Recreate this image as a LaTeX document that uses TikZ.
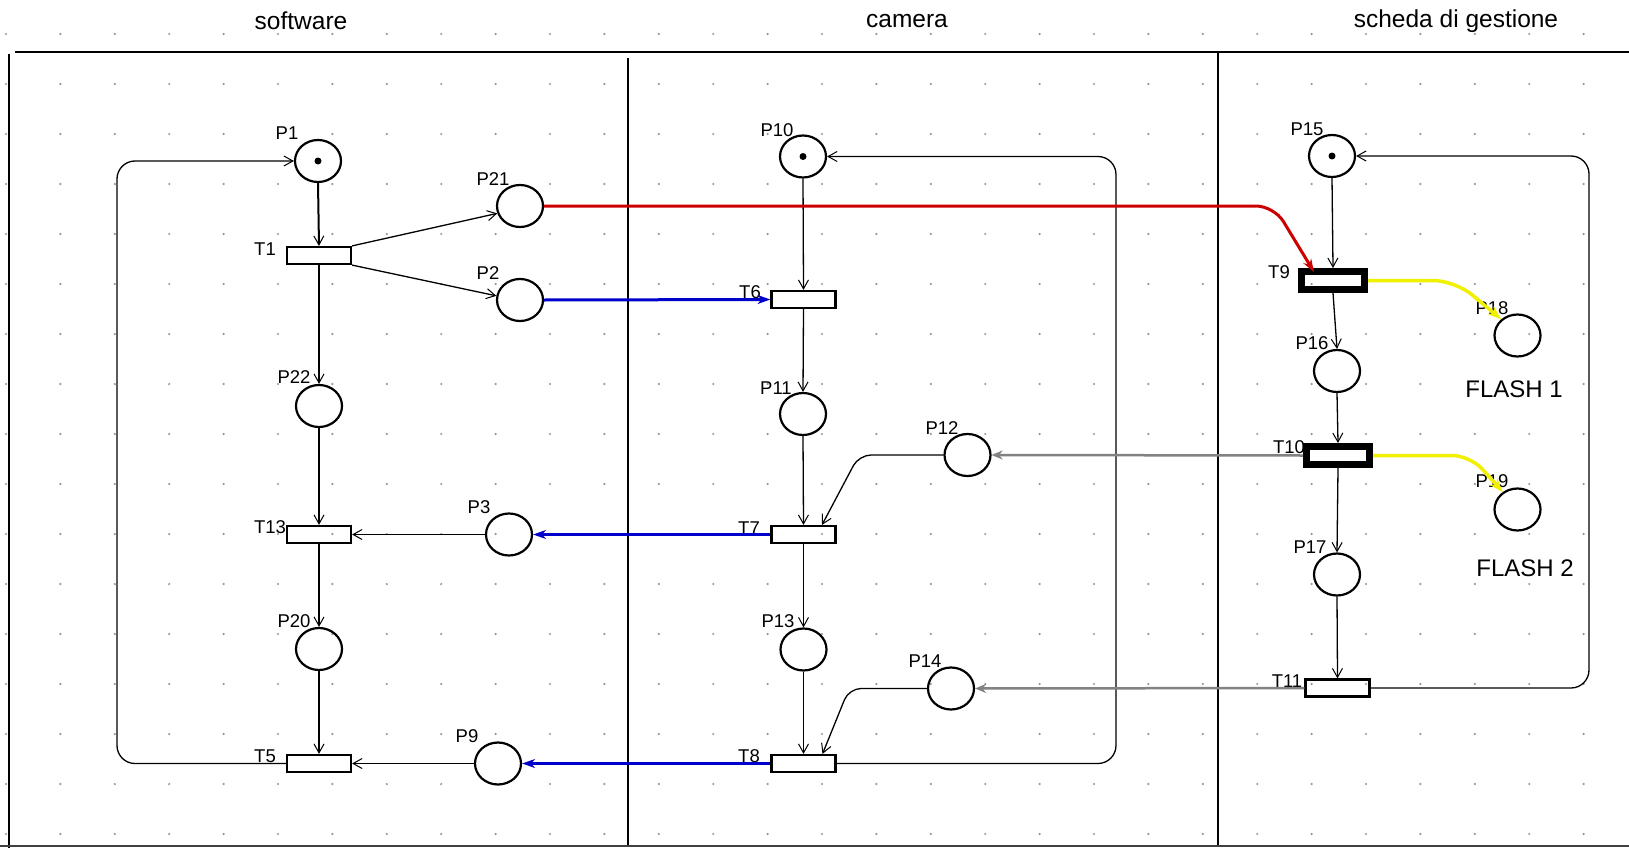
\documentclass[tikz,border=0pt]{standalone}
\usepackage{fontspec}
\setmainfont{Liberation Sans}
\usetikzlibrary{arrows.meta,shapes.geometric,calc}
\definecolor{pnred}{RGB}{205,0,0}
\definecolor{pnblue}{RGB}{0,0,205}
\definecolor{pnyellow}{RGB}{240,240,0}
\definecolor{pngray}{RGB}{130,130,130}
\definecolor{dotgray}{RGB}{150,150,150}
\begin{document}
\begin{tikzpicture}[x=1pt,y=-1pt,
  place/.style={ellipse,draw,line width=2.2pt,minimum width=46pt,minimum height=42pt,inner sep=0pt},
  trans/.style={rectangle,draw,line width=2.2pt,minimum width=64pt,minimum height=17pt,inner sep=0pt},
  transthick/.style={rectangle,draw,line width=7pt,minimum width=63pt,minimum height=18pt,inner sep=0pt},
  tokendot/.style={circle,fill,minimum size=7pt,inner sep=0pt},
  lbl/.style={font=\fontsize{18.5}{20}\selectfont,inner sep=0pt},
  hdr/.style={font=\fontsize{24.5}{27}\selectfont,inner sep=0pt},
  flash/.style={font=\fontsize{24}{27}\selectfont,inner sep=0pt},
  barb/.style={-{Straight Barb[length=9pt,width=10pt,line width=1pt]}},
  arcthick/.style={barb,line width=2pt},
  arcthin/.style={barb,line width=1.3pt},
  redarc/.style={draw=pnred,line width=3pt,-{Stealth[length=13pt,width=9pt]}},
  bluearc/.style={draw=pnblue,line width=3pt,-{Stealth[length=13pt,width=9pt]}},
  grayarc/.style={draw=pngray,line width=2.5pt,-{Stealth[length=11pt,width=9pt]}},
  yellowarc/.style={draw=pnyellow,line width=3.5pt,-{Stealth[length=14pt,width=10pt]}}
]
\useasboundingbox (0,0) rectangle (1629,848);
\fill[white] (0,0) rectangle (1629,848);
% dot grid
\foreach \i in {0,...,29}{
  \foreach \j in {0,...,16}{
    \fill[dotgray] ({6+54.4*\i},{34+50*\j}) circle (1.2pt);
  }
}
% frame
\draw[line width=2.5pt] (15,52) -- (1629,52);
\draw[line width=2.5pt] (9,54) -- (9,848);
\draw[line width=2.5pt] (628,58) -- (628,845);
\draw[line width=2.5pt] (1218,52) -- (1218,845);
\draw[line width=2pt,black!75] (0,845.5) -- (1629,845.5);
% headers
\node[hdr] (hsw) at (301,21) {software};
\node[hdr] (hcam) at (907,21) {camera};
\node[hdr] (hsch) at (1456,21) {scheda di gestione};
% places and transitions
\node[place] (P1) at (318,161) {};
\node[trans] (T1) at (319,255.5) {};
\node[place] (P22) at (319,406) {};
\node[trans] (T13) at (319,534.5) {};
\node[place] (P20) at (319,649) {};
\node[trans] (T5) at (319,763.5) {};
\node[place] (P21) at (520,206) {};
\node[place] (P2) at (520,300) {};
\node[place] (P3) at (509,534.5) {};
\node[place] (P9) at (498,763.5) {};
\node[place] (P10) at (803,156.5) {};
\node[trans] (T6) at (803.5,299.5) {};
\node[place] (P11) at (803,414) {};
\node[trans] (T7) at (803.5,534.5) {};
\node[place] (P13) at (803.5,649.5) {};
\node[trans] (T8) at (803.5,763.5) {};
\node[place] (P12) at (967.5,455) {};
\node[place] (P14) at (951,688.5) {};
\node[place] (P15) at (1332,156) {};
\node[transthick] (T9) at (1333,280.5) {};
\node[place] (P16) at (1337,371) {};
\node[transthick] (T10) at (1338,455.5) {};
\node[place] (P17) at (1337,574.5) {};
\node[trans] (T11) at (1337.5,688) {};
\node[place] (P18) at (1517.5,335.5) {};
\node[place] (P19) at (1517.5,509.5) {};
% tokens
\node[tokendot] (k1) at (P1) {};
\node[tokendot] (k10) at (P10) {};
\node[tokendot] (k15) at (P15) {};
% labels
\node[lbl] (lP1) at (287,133) {P1};
\node[lbl] (lP21) at (493,179) {P21};
\node[lbl] (lP2) at (488,273) {P2};
\node[lbl] (lT1) at (265,249) {T1};
\node[lbl] (lP22) at (294,377) {P22};
\node[lbl] (lT13) at (270,527) {T13};
\node[lbl] (lP20) at (294,621) {P20};
\node[lbl] (lT5) at (265,756) {T5};
\node[lbl] (lP3) at (479,507) {P3};
\node[lbl] (lP9) at (467,736) {P9};
\node[lbl] (lP10) at (777,130) {P10};
\node[lbl] (lT6) at (750,292) {T6};
\node[lbl] (lP11) at (776,388) {P11};
\node[lbl] (lT7) at (749,528) {T7};
\node[lbl] (lP13) at (778,621) {P13};
\node[lbl] (lT8) at (749,756) {T8};
\node[lbl] (lP12) at (942,428) {P12};
\node[lbl] (lP14) at (925,661) {P14};
\node[lbl] (lP15) at (1307,129) {P15};
\node[lbl] (lT9) at (1279,272) {T9};
\node[lbl] (lP16) at (1312,343) {P16};
\node[lbl] (lT10) at (1289,447) {T10};
\node[lbl] (lP17) at (1310,547) {P17};
\node[lbl] (lT11) at (1287,681) {T11};
\node[lbl] (lP18) at (1492,308) {P18};
\node[lbl] (lP19) at (1492,481) {P19};
\node[flash] (fl1) at (1514,389) {FLASH 1};
\node[flash] (fl2) at (1525,568) {FLASH 2};
% software column arcs
\draw[arcthick] (P1.south) -- (T1.north);
\draw[arcthick] (T1.south) -- (P22.north);
\draw[arcthick] (P22.south) -- (T13.north);
\draw[arcthick] (T13.south) -- (P20.north);
\draw[arcthick] (P20.south) -- (T5.north);
\draw[arcthin] (T1.north east) -- (P21.198);
\draw[arcthin] (T1.south east) -- (P2.170);
\draw[arcthin] (P3.west) -- (T13.east);
\draw[arcthin] (P9.west) -- (T5.east);
\coordinate (L1) at (117,450);
\draw[arcthin,rounded corners=18pt] (T5.west) -| (L1) |- (P1.west);
% camera column arcs
\draw[arcthin] (P10.south) -- (T6.north);
\draw[arcthin] (T6.south) -- (P11.north);
\draw[arcthin] (P11.south) -- (T7.north);
\draw[arcthin] (T7.south) -- (P13.north);
\draw[arcthin] (P13.south) -- (T8.north);
\coordinate (M1) at (1116,450);
\draw[arcthin,rounded corners=18pt] (T8.east) -| (M1) |- (P10.east);
\coordinate (c12) at (859,455);
\draw[arcthin,rounded corners=12pt] (P12.west) -- (c12) -- ($(T7.north)+(18.5,0)$);
\coordinate (c14) at (849,688.5);
\draw[arcthin,rounded corners=12pt] (P14.west) -- (c14) -- ($(T8.north)+(19,0)$);
% scheda column arcs
\draw[arcthin] (P15.south) -- (T9.north);
\draw[arcthin] (T9.south) -- (P16.north);
\draw[arcthin] (P16.south) -- (T10.north);
\draw[arcthin] (T10.south) -- (P17.north);
\draw[arcthin] (P17.south) -- (T11.north);
\coordinate (R1) at (1589,420);
\draw[arcthin,rounded corners=18pt] (T11.east) -| (R1) |- (P15.east);
% coloured arcs
\coordinate (cR) at (1274,206);
\draw[redarc,rounded corners=18pt] (P21.east) -- (cR) -- ($(T9.north west)+(16,4)$);
\draw[bluearc] (P2.east) -- (T6.west);
\draw[bluearc] (T7.west) -- (P3.east);
\draw[bluearc] (T8.west) -- (P9.east);
\draw[grayarc] (T10.west) -- (P12.east);
\draw[grayarc] (T11.west) -- (P14.east);
\coordinate (cY1) at (1455,280.5);
\draw[yellowarc,rounded corners=22pt] (T9.east) -- (cY1) -- (P18.135);
\coordinate (cY2) at (1470,455.5);
\draw[yellowarc,rounded corners=18pt] (T10.east) -- (cY2) -- (P19.130);
\end{tikzpicture}
\end{document}
